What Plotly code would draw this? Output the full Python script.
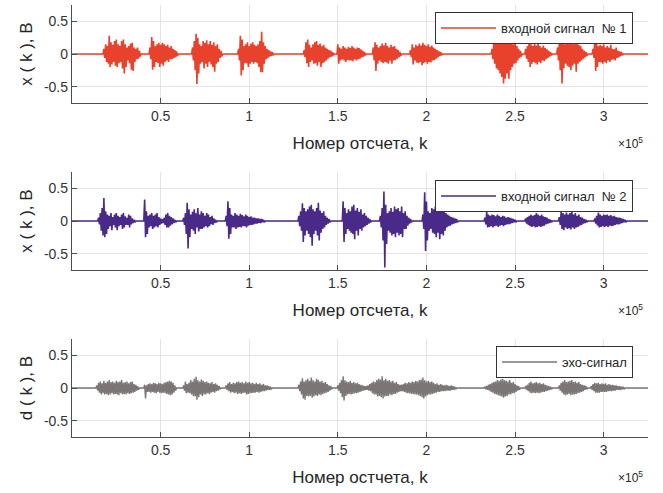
import plotly.graph_objects as go

# ---------------- data ----------------
# Each signal is a sequence of speech bursts. For each burst: start sample (in thousands),
# and upper / lower envelope amplitudes (V) every 1000 samples.
K_MAX = 325000
STEP = 1000

tick_k = [50000, 100000, 150000, 200000, 250000, 300000]
tick_k_text = ["0.5", "1", "1.5", "2", "2.5", "3"]
tick_v = [-0.5, 0, 0.5]
tick_v_text = ["-0.5", "0", "0.5"]

# input signal No 1
s1_starts = [18, 44, 68, 94, 131, 150, 170, 191, 237, 256, 274, 294]
s1_upper = [
    [0.08, 0.15, 0.12, 0.28, 0.18, 0.14, 0.2, 0.22, 0.15, 0.12, 0.2, 0.22, 0.15, 0.1, 0.12, 0.16, 0.17, 0.1, 0.08, 0.1, 0.05],
    [0.1, 0.26, 0.2, 0.12, 0.15, 0.17, 0.14, 0.17, 0.15, 0.12, 0.14, 0.1, 0.12, 0.08, 0.06, 0.04],
    [0.1, 0.2, 0.31, 0.25, 0.15, 0.12, 0.2, 0.17, 0.21, 0.15, 0.2, 0.14, 0.18, 0.12, 0.15, 0.08, 0.05],
    [0.08, 0.28, 0.22, 0.12, 0.15, 0.18, 0.12, 0.16, 0.18, 0.14, 0.12, 0.15, 0.2, 0.34, 0.18, 0.12, 0.08, 0.06, 0.04, 0.03],
    [0.06, 0.18, 0.22, 0.14, 0.1, 0.15, 0.18, 0.2, 0.14, 0.16, 0.12, 0.14, 0.1, 0.08, 0.06, 0.05, 0.03],
    [0.15, 0.1, 0.08, 0.12, 0.1, 0.08, 0.11, 0.09, 0.12, 0.1, 0.08, 0.1, 0.09, 0.07, 0.05, 0.03],
    [0.1, 0.18, 0.14, 0.1, 0.12, 0.16, 0.13, 0.17, 0.12, 0.1, 0.14, 0.11, 0.12, 0.08, 0.06, 0.03],
    [0.06, 0.15, 0.1, 0.14, 0.12, 0.16, 0.13, 0.17, 0.14, 0.12, 0.15, 0.11, 0.13, 0.1, 0.08, 0.06, 0.04, 0.03],
    [0.08, 0.18, 0.22, 0.2, 0.25, 0.28, 0.3, 0.26, 0.22, 0.27, 0.2, 0.18, 0.15, 0.18, 0.12, 0.08, 0.05],
    [0.08, 0.12, 0.26, 0.15, 0.12, 0.16, 0.13, 0.18, 0.12, 0.1, 0.13, 0.09, 0.07, 0.05, 0.03],
    [0.1, 0.2, 0.27, 0.2, 0.15, 0.2, 0.28, 0.18, 0.22, 0.15, 0.25, 0.18, 0.14, 0.12, 0.08, 0.05, 0.03],
    [0.08, 0.27, 0.18, 0.12, 0.14, 0.12, 0.15, 0.1, 0.12, 0.1, 0.14, 0.08, 0.07, 0.1, 0.05, 0.04, 0.03],
]
s1_lower = [
    [0.06, 0.12, 0.15, 0.2, 0.16, 0.12, 0.18, 0.2, 0.14, 0.12, 0.22, 0.3, 0.2, 0.1, 0.14, 0.24, 0.26, 0.12, 0.08, 0.07, 0.04],
    [0.08, 0.24, 0.2, 0.12, 0.14, 0.2, 0.15, 0.18, 0.12, 0.1, 0.12, 0.08, 0.08, 0.06, 0.05, 0.03],
    [0.1, 0.25, 0.46, 0.3, 0.15, 0.12, 0.22, 0.15, 0.2, 0.12, 0.16, 0.2, 0.27, 0.15, 0.12, 0.06, 0.04],
    [0.1, 0.33, 0.25, 0.14, 0.14, 0.2, 0.15, 0.12, 0.15, 0.12, 0.14, 0.2, 0.28, 0.28, 0.15, 0.08, 0.06, 0.04, 0.03, 0.02],
    [0.05, 0.14, 0.2, 0.12, 0.1, 0.15, 0.14, 0.18, 0.12, 0.2, 0.14, 0.12, 0.1, 0.07, 0.05, 0.04, 0.02],
    [0.15, 0.1, 0.08, 0.1, 0.12, 0.09, 0.1, 0.1, 0.11, 0.08, 0.1, 0.08, 0.07, 0.05, 0.04, 0.02],
    [0.1, 0.26, 0.15, 0.1, 0.12, 0.14, 0.12, 0.13, 0.15, 0.1, 0.15, 0.1, 0.09, 0.07, 0.05, 0.03],
    [0.05, 0.16, 0.1, 0.13, 0.14, 0.12, 0.17, 0.14, 0.12, 0.15, 0.12, 0.13, 0.1, 0.09, 0.07, 0.05, 0.03, 0.02],
    [0.08, 0.15, 0.22, 0.25, 0.3, 0.35, 0.45, 0.38, 0.3, 0.38, 0.25, 0.2, 0.15, 0.14, 0.1, 0.06, 0.04],
    [0.07, 0.12, 0.2, 0.15, 0.12, 0.14, 0.16, 0.12, 0.14, 0.1, 0.11, 0.08, 0.06, 0.04, 0.02],
    [0.1, 0.25, 0.45, 0.22, 0.15, 0.18, 0.2, 0.25, 0.18, 0.15, 0.27, 0.15, 0.12, 0.1, 0.07, 0.05, 0.03],
    [0.06, 0.26, 0.2, 0.12, 0.13, 0.15, 0.12, 0.14, 0.1, 0.12, 0.09, 0.08, 0.1, 0.06, 0.05, 0.03, 0.02],
]

# input signal No 2
s2_starts = [15, 41, 63, 87, 128, 153, 174, 198, 233, 256, 275, 295]
s2_upper = [
    [0.05, 0.12, 0.2, 0.35, 0.15, 0.1, 0.08, 0.12, 0.06, 0.1, 0.12, 0.08, 0.06, 0.1, 0.12, 0.07, 0.05, 0.1, 0.08, 0.04, 0.02],
    [0.33, 0.15, 0.08, 0.1, 0.12, 0.08, 0.1, 0.12, 0.06, 0.04, 0.03, 0.05, 0.1, 0.12, 0.08, 0.06, 0.04, 0.02],
    [0.05, 0.12, 0.28, 0.18, 0.1, 0.14, 0.18, 0.12, 0.2, 0.1, 0.15, 0.12, 0.08, 0.12, 0.1, 0.06, 0.08, 0.04, 0.02],
    [0.08, 0.3, 0.2, 0.1, 0.08, 0.12, 0.1, 0.08, 0.11, 0.09, 0.07, 0.1, 0.08, 0.06, 0.07, 0.05, 0.05, 0.04, 0.04, 0.03, 0.03, 0.02],
    [0.08, 0.15, 0.27, 0.2, 0.15, 0.18, 0.22, 0.25, 0.18, 0.15, 0.2, 0.28, 0.16, 0.12, 0.15, 0.08, 0.05, 0.03],
    [0.3, 0.2, 0.12, 0.18, 0.15, 0.22, 0.25, 0.16, 0.2, 0.14, 0.18, 0.1, 0.12, 0.08, 0.05, 0.03],
    [0.08, 0.2, 0.45, 0.25, 0.12, 0.15, 0.2, 0.14, 0.22, 0.18, 0.2, 0.15, 0.22, 0.12, 0.15, 0.08, 0.05, 0.03],
    [0.1, 0.44, 0.3, 0.15, 0.12, 0.2, 0.18, 0.22, 0.16, 0.23, 0.18, 0.2, 0.14, 0.12, 0.1, 0.08, 0.06, 0.05, 0.04, 0.03],
    [0.05, 0.14, 0.1, 0.08, 0.1, 0.09, 0.07, 0.1, 0.08, 0.06, 0.08, 0.07, 0.05, 0.06, 0.05, 0.04, 0.03, 0.02],
    [0.04, 0.06, 0.08, 0.1, 0.08, 0.09, 0.12, 0.1, 0.08, 0.1, 0.07, 0.06, 0.05, 0.03, 0.02],
    [0.06, 0.14, 0.12, 0.1, 0.13, 0.1, 0.12, 0.15, 0.1, 0.12, 0.08, 0.1, 0.06, 0.05, 0.03, 0.02],
    [0.04, 0.08, 0.13, 0.1, 0.08, 0.1, 0.09, 0.1, 0.08, 0.09, 0.07, 0.08, 0.06, 0.05, 0.05, 0.04, 0.03, 0.02],
]
s2_lower = [
    [0.05, 0.15, 0.22, 0.25, 0.2, 0.12, 0.08, 0.14, 0.06, 0.1, 0.14, 0.08, 0.06, 0.12, 0.1, 0.06, 0.06, 0.1, 0.05, 0.03, 0.02],
    [0.25, 0.2, 0.1, 0.08, 0.12, 0.1, 0.08, 0.1, 0.06, 0.04, 0.03, 0.06, 0.1, 0.1, 0.07, 0.05, 0.03, 0.02],
    [0.06, 0.2, 0.42, 0.25, 0.12, 0.15, 0.2, 0.1, 0.16, 0.12, 0.12, 0.1, 0.08, 0.1, 0.08, 0.05, 0.06, 0.03, 0.02],
    [0.08, 0.27, 0.2, 0.1, 0.1, 0.12, 0.1, 0.09, 0.1, 0.08, 0.08, 0.1, 0.07, 0.06, 0.06, 0.05, 0.04, 0.04, 0.03, 0.03, 0.02, 0.02],
    [0.08, 0.15, 0.32, 0.22, 0.15, 0.2, 0.25, 0.38, 0.2, 0.15, 0.22, 0.3, 0.18, 0.12, 0.1, 0.06, 0.04, 0.02],
    [0.32, 0.2, 0.12, 0.15, 0.18, 0.2, 0.28, 0.15, 0.22, 0.12, 0.15, 0.1, 0.08, 0.06, 0.04, 0.02],
    [0.1, 0.3, 0.71, 0.35, 0.15, 0.18, 0.22, 0.2, 0.25, 0.18, 0.22, 0.2, 0.25, 0.12, 0.12, 0.07, 0.04, 0.02],
    [0.12, 0.46, 0.3, 0.15, 0.12, 0.18, 0.2, 0.25, 0.18, 0.28, 0.2, 0.22, 0.15, 0.1, 0.08, 0.07, 0.05, 0.04, 0.03, 0.02],
    [0.05, 0.1, 0.09, 0.08, 0.1, 0.08, 0.07, 0.09, 0.07, 0.06, 0.08, 0.06, 0.05, 0.05, 0.04, 0.03, 0.02, 0.02],
    [0.04, 0.06, 0.08, 0.09, 0.08, 0.1, 0.09, 0.08, 0.09, 0.08, 0.07, 0.05, 0.04, 0.03, 0.02],
    [0.06, 0.12, 0.14, 0.1, 0.12, 0.11, 0.13, 0.1, 0.12, 0.1, 0.09, 0.07, 0.06, 0.04, 0.03, 0.02],
    [0.04, 0.07, 0.1, 0.09, 0.08, 0.09, 0.08, 0.09, 0.07, 0.08, 0.07, 0.06, 0.05, 0.05, 0.04, 0.03, 0.02, 0.02],
]

# echo signal
s3_starts = [14, 41, 63, 87, 128, 150, 166, 186, 233, 256, 275, 293]
s3_upper = [
    [0.04, 0.08, 0.1, 0.07, 0.11, 0.08, 0.1, 0.12, 0.09, 0.1, 0.08, 0.11, 0.09, 0.1, 0.12, 0.08, 0.09, 0.1, 0.07, 0.09, 0.1, 0.06, 0.05, 0.03],
    [0.05, 0.04, 0.06, 0.07, 0.06, 0.08, 0.07, 0.06, 0.08, 0.07, 0.06, 0.08, 0.09, 0.1, 0.11, 0.1, 0.08, 0.04],
    [0.04, 0.1, 0.06, 0.08, 0.12, 0.1, 0.14, 0.17, 0.12, 0.1, 0.13, 0.11, 0.09, 0.1, 0.08, 0.07, 0.09, 0.06, 0.07, 0.05, 0.03],
    [0.04, 0.07, 0.09, 0.06, 0.08, 0.07, 0.09, 0.1, 0.08, 0.09, 0.07, 0.1, 0.08, 0.09, 0.07, 0.08, 0.06, 0.08, 0.06, 0.07, 0.05, 0.06, 0.04, 0.04, 0.03, 0.02],
    [0.05, 0.1, 0.15, 0.1, 0.12, 0.14, 0.11, 0.16, 0.12, 0.1, 0.14, 0.12, 0.1, 0.11, 0.08, 0.09, 0.06, 0.04, 0.03],
    [0.04, 0.08, 0.12, 0.18, 0.12, 0.1, 0.09, 0.11, 0.08, 0.09, 0.07, 0.08, 0.06, 0.05, 0.04, 0.03],
    [0.03, 0.04, 0.06, 0.08, 0.1, 0.09, 0.12, 0.14, 0.13, 0.18, 0.12, 0.14, 0.11, 0.12, 0.1, 0.11, 0.08, 0.09, 0.06, 0.05],
    [0.05, 0.06, 0.08, 0.07, 0.09, 0.08, 0.1, 0.09, 0.11, 0.1, 0.12, 0.13, 0.16, 0.12, 0.1, 0.11, 0.09, 0.1, 0.08, 0.06, 0.07, 0.05, 0.06, 0.05, 0.04, 0.05, 0.04, 0.03, 0.04, 0.03, 0.02],
    [0.02, 0.03, 0.05, 0.06, 0.08, 0.09, 0.1, 0.12, 0.11, 0.13, 0.14, 0.12, 0.11, 0.1, 0.12, 0.08, 0.09, 0.06, 0.04, 0.03],
    [0.03, 0.05, 0.08, 0.1, 0.07, 0.08, 0.09, 0.07, 0.08, 0.06, 0.07, 0.05, 0.04, 0.03, 0.02],
    [0.04, 0.08, 0.1, 0.12, 0.09, 0.1, 0.11, 0.12, 0.09, 0.1, 0.08, 0.09, 0.06, 0.05, 0.04, 0.03],
    [0.03, 0.06, 0.08, 0.07, 0.08, 0.06, 0.07, 0.06, 0.07, 0.05, 0.06, 0.05, 0.05, 0.04, 0.04, 0.03, 0.03, 0.02, 0.02],
]
s3_lower = [
    [0.04, 0.07, 0.1, 0.08, 0.1, 0.09, 0.11, 0.1, 0.08, 0.1, 0.09, 0.1, 0.11, 0.08, 0.1, 0.09, 0.1, 0.08, 0.09, 0.08, 0.07, 0.06, 0.04, 0.03],
    [0.16, 0.06, 0.06, 0.07, 0.06, 0.07, 0.08, 0.06, 0.07, 0.08, 0.07, 0.08, 0.09, 0.1, 0.11, 0.1, 0.07, 0.04],
    [0.04, 0.08, 0.07, 0.08, 0.1, 0.12, 0.13, 0.18, 0.14, 0.1, 0.12, 0.1, 0.1, 0.08, 0.09, 0.07, 0.06, 0.07, 0.05, 0.04, 0.02],
    [0.03, 0.05, 0.07, 0.06, 0.08, 0.07, 0.09, 0.08, 0.09, 0.08, 0.07, 0.1, 0.09, 0.08, 0.08, 0.07, 0.07, 0.06, 0.07, 0.06, 0.05, 0.05, 0.04, 0.03, 0.03, 0.02],
    [0.05, 0.1, 0.16, 0.18, 0.12, 0.13, 0.12, 0.15, 0.13, 0.11, 0.12, 0.1, 0.11, 0.09, 0.08, 0.07, 0.06, 0.04, 0.02],
    [0.04, 0.08, 0.14, 0.19, 0.12, 0.1, 0.09, 0.1, 0.09, 0.08, 0.08, 0.07, 0.06, 0.05, 0.04, 0.03],
    [0.03, 0.04, 0.05, 0.08, 0.1, 0.1, 0.13, 0.12, 0.14, 0.16, 0.13, 0.12, 0.12, 0.1, 0.11, 0.09, 0.09, 0.07, 0.06, 0.05],
    [0.05, 0.06, 0.07, 0.08, 0.08, 0.09, 0.09, 0.1, 0.1, 0.11, 0.12, 0.14, 0.16, 0.13, 0.11, 0.1, 0.1, 0.09, 0.08, 0.07, 0.06, 0.06, 0.05, 0.05, 0.05, 0.04, 0.04, 0.04, 0.03, 0.03, 0.02],
    [0.02, 0.03, 0.04, 0.06, 0.07, 0.09, 0.1, 0.11, 0.12, 0.13, 0.15, 0.13, 0.12, 0.1, 0.1, 0.08, 0.08, 0.06, 0.04, 0.03],
    [0.03, 0.05, 0.07, 0.08, 0.07, 0.08, 0.07, 0.08, 0.07, 0.06, 0.06, 0.05, 0.04, 0.03, 0.02],
    [0.04, 0.07, 0.1, 0.11, 0.1, 0.09, 0.11, 0.1, 0.1, 0.09, 0.08, 0.07, 0.06, 0.05, 0.03, 0.02],
    [0.03, 0.05, 0.07, 0.07, 0.07, 0.06, 0.06, 0.06, 0.06, 0.05, 0.05, 0.05, 0.04, 0.04, 0.03, 0.03, 0.03, 0.02, 0.02],
]

names = ["входной сигнал  № 1", "входной сигнал  № 2", "эхо-сигнал"]
y_titles = ["x ( k ), B", "x ( k ), B", "d ( k ), B"]
x_titles = ["Номер отсчета, k", "Номер отсчета, k", "Номер остчета, k"]
colors = ["#e8412c", "#4a2a88", "#7b7675"]
widths = [1.6, 1.6, 1.4]


def build(starts, upper, lower):
    xs, ys = [0], [0]
    for s, up, lo in zip(starts, upper, lower):
        k0 = s * STEP
        xs.append(k0 - STEP // 2)
        ys.append(0)
        for i, (u, l) in enumerate(zip(up, lo)):
            xs += [k0 + i * STEP, k0 + i * STEP + STEP // 2]
            ys += [u, -l]
        xs.append(k0 + len(up) * STEP)
        ys.append(0)
    xs.append(K_MAX)
    ys.append(0)
    return xs, ys


signals = [(s1_starts, s1_upper, s1_lower), (s2_starts, s2_upper, s2_lower), (s3_starts, s3_upper, s3_lower)]

W, H = 663, 493
x_dom = [72 / W, 648 / W]
tops = [5, 172, 339]
bottoms = [103, 270, 437]
leg_right = [633, 633, 633]
leg_top = [12, 180, 346]

FONT = "Liberation Sans, Arial, sans-serif"
fig = go.Figure()
layout = dict(
    width=W, height=H, margin=dict(l=0, r=0, t=0, b=0),
    paper_bgcolor="white", plot_bgcolor="white",
    font=dict(family=FONT, color="#262626"),
    showlegend=True,
    annotations=[],
)

for i in range(3):
    xs, ys = build(*signals[i])
    n = "" if i == 0 else str(i + 1)
    fig.add_trace(go.Scatter(
        x=xs, y=ys, mode="lines", name=names[i],
        line=dict(color=colors[i], width=widths[i]),
        xaxis="x" + n, yaxis="y" + n, legend="legend" + n,
        showlegend=True, hoverinfo="skip",
    ))
    dom_y = [1 - bottoms[i] / H, 1 - tops[i] / H]
    layout["xaxis" + n] = dict(
        domain=x_dom, range=[0, K_MAX], anchor="y" + n,
        tickvals=tick_k, ticktext=tick_k_text,
        showgrid=True, gridcolor="#e4e4e4", gridwidth=1,
        showline=True, linecolor="#4d4d4d", linewidth=1.3,
        ticks="inside", ticklen=5, tickcolor="#4d4d4d",
        tickfont=dict(size=14, color="#333333"),
        zeroline=False,
        title=dict(text=x_titles[i], font=dict(size=17, color="#262626"), standoff=14),
    )
    layout["yaxis" + n] = dict(
        domain=dom_y, range=[-0.75, 0.75], anchor="x" + n,
        tickvals=tick_v, ticktext=tick_v_text,
        showgrid=True, gridcolor="#e4e4e4", gridwidth=1,
        showline=True, linecolor="#4d4d4d", linewidth=1.3,
        ticks="inside", ticklen=5, tickcolor="#4d4d4d",
        tickfont=dict(size=14, color="#333333"),
        zeroline=False,
        title=dict(text=y_titles[i], font=dict(size=17, color="#262626"), standoff=6),
    )
    layout["legend" + n] = dict(
        x=leg_right[i] / W, xanchor="right", y=1 - leg_top[i] / H, yanchor="top",
        bgcolor="white", bordercolor="#333333", borderwidth=1,
        font=dict(size=13, color="#262626"), itemwidth=55,
        visible=True,
    )
    layout["annotations"].append(dict(
        xref="paper", yref="paper", x=645 / W, y=1 - (bottoms[i] + 40) / H,
        xanchor="right", yanchor="middle", showarrow=False,
        text="×10<sup>5</sup>", font=dict(size=12, color="#262626"),
    ))

fig.update_layout(**layout)
fig.write_html("out.html")
